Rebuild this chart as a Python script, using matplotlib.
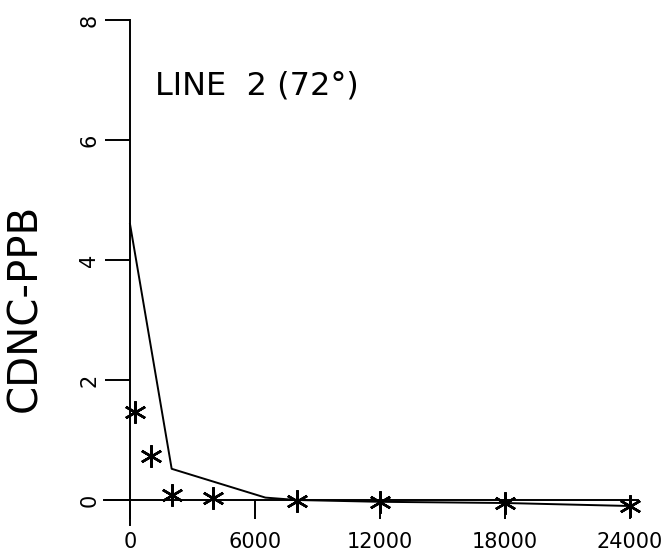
import matplotlib.pyplot as plt

# datos
dist_pts = [250, 1000, 2000, 4000, 8000, 12000, 18000, 24000]
conc_pts = [1.47, 0.73, 0.08, 0.03, -0.02, -0.03, -0.05, -0.1]

dist_linea = [0, 2000, 6500, 8000, 12000, 18000, 24000]
conc_linea = [4.6, 0.52, 0.04, 0.0, -0.03, -0.05, -0.1]

xticks = [0, 6000, 12000, 18000, 24000]
xlabels = ['0', '6000', '12000', '18000', '24000']
yticks = [0, 2, 4, 6, 8]

fuente = ['DejaVu Sans']

fig = plt.figure(figsize=(6.67, 5.59), dpi=100)
W, H = 667, 559
# eje: x 0->24000 en px 130->630, y 0->8 en px 500->20
x0, x1 = 130, 630
y0, y1 = 500, 20
xmin, xmax = -1250, 24400
ymin, ymax = -0.42, 8.0
px_x = (x1 - x0) / 24000
px_y = (y0 - y1) / 8
left = x0 + xmin * px_x
right = x0 + xmax * px_x
bottom = y0 - ymin * px_y
top = y0 - ymax * px_y
ax = fig.add_axes([left / W, 1 - bottom / H, (right - left) / W, (bottom - top) / H])
ax.set_xlim(xmin, xmax)
ax.set_ylim(ymin, ymax)

for s in ['top', 'right']:
    ax.spines[s].set_visible(False)
ax.spines['left'].set_position(('data', 0))
ax.spines['bottom'].set_position(('data', 0))
ax.spines['left'].set_linewidth(1.4)
ax.spines['bottom'].set_linewidth(1.4)

ax.plot(dist_linea, conc_linea, color='black', lw=1.4, clip_on=False)
ax.plot(dist_pts, conc_pts, linestyle='none', marker=(6, 2, 0), markersize=16,
        markeredgewidth=1.8, color='black', clip_on=False)

ax.set_xticks(xticks)
ax.set_xticklabels(xlabels, family=fuente, fontsize=15)
ax.set_yticks(yticks)
ax.set_yticklabels([str(v) for v in yticks], family=fuente, fontsize=15, rotation=90, va='center')
ax.tick_params(axis='x', direction='out', length=14, width=1.4, pad=9)
ax.tick_params(axis='y', direction='out', length=18, width=1.4, pad=4)

fig.text(25 / W, 1 - 308 / H, 'CDNC-PPB', rotation=90, ha='center', va='center',
         family=fuente, fontsize=29)
fig.text(155 / W, 1 - 86 / H, 'LINE  2 (72°)', ha='left', va='center',
         family=fuente, fontsize=23)

fig.savefig('out.png', dpi=100)
